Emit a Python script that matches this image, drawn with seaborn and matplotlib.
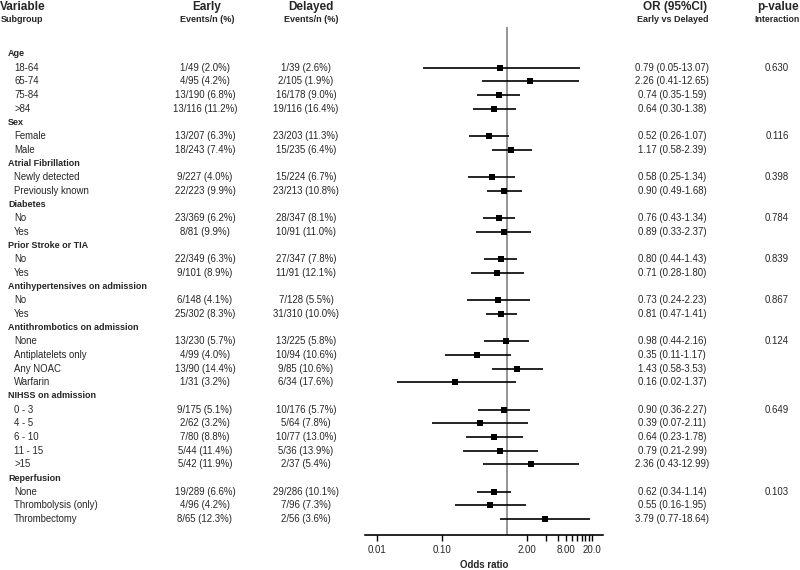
import numpy as np
import pandas as pd
import seaborn as sns
import matplotlib.pyplot as plt
from matplotlib.transforms import blended_transform_factory

# groups / subgroups
group_names = ["Age", "Sex", "Atrial Fibrillation", "Diabetes", "Prior Stroke or TIA",
               "Antihypertensives on admission", "Antithrombotics on admission",
               "NIHSS on admission", "Reperfusion"]
group_sizes = [4, 2, 2, 2, 2, 2, 4, 5, 3]
p_interaction = ["0.630", "0.116", "0.398", "0.784", "0.839", "0.867", "0.124", "0.649", "0.103"]

subgroups = ["18-64", "65-74", "75-84", ">84",
             "Female", "Male",
             "Newly detected", "Previously known",
             "No", "Yes",
             "No", "Yes",
             "No", "Yes",
             "None", "Antiplatelets only", "Any NOAC", "Warfarin",
             "0 - 3", "4 - 5", "6 - 10", "11 - 15", ">15",
             "None", "Thrombolysis (only)", "Thrombectomy"]

early = ["1/49 (2.0%)", "4/95 (4.2%)", "13/190 (6.8%)", "13/116 (11.2%)",
         "13/207 (6.3%)", "18/243 (7.4%)",
         "9/227 (4.0%)", "22/223 (9.9%)",
         "23/369 (6.2%)", "8/81 (9.9%)",
         "22/349 (6.3%)", "9/101 (8.9%)",
         "6/148 (4.1%)", "25/302 (8.3%)",
         "13/230 (5.7%)", "4/99 (4.0%)", "13/90 (14.4%)", "1/31 (3.2%)",
         "9/175 (5.1%)", "2/62 (3.2%)", "7/80 (8.8%)", "5/44 (11.4%)", "5/42 (11.9%)",
         "19/289 (6.6%)", "4/96 (4.2%)", "8/65 (12.3%)"]

delayed = ["1/39 (2.6%)", "2/105 (1.9%)", "16/178 (9.0%)", "19/116 (16.4%)",
           "23/203 (11.3%)", "15/235 (6.4%)",
           "15/224 (6.7%)", "23/213 (10.8%)",
           "28/347 (8.1%)", "10/91 (11.0%)",
           "27/347 (7.8%)", "11/91 (12.1%)",
           "7/128 (5.5%)", "31/310 (10.0%)",
           "13/225 (5.8%)", "10/94 (10.6%)", "9/85 (10.6%)", "6/34 (17.6%)",
           "10/176 (5.7%)", "5/64 (7.8%)", "10/77 (13.0%)", "5/36 (13.9%)", "2/37 (5.4%)",
           "29/286 (10.1%)", "7/96 (7.3%)", "2/56 (3.6%)"]

odds_ratio = [0.79, 2.26, 0.74, 0.64, 0.52, 1.17, 0.58, 0.90, 0.76, 0.89, 0.80, 0.71,
              0.73, 0.81, 0.98, 0.35, 1.43, 0.16, 0.90, 0.39, 0.64, 0.79, 2.36,
              0.62, 0.55, 3.79]
ci_low = [0.05, 0.41, 0.35, 0.30, 0.26, 0.58, 0.25, 0.49, 0.43, 0.33, 0.44, 0.28,
          0.24, 0.47, 0.44, 0.11, 0.58, 0.02, 0.36, 0.07, 0.23, 0.21, 0.43,
          0.34, 0.16, 0.77]
ci_high = [13.07, 12.65, 1.59, 1.38, 1.07, 2.39, 1.34, 1.68, 1.34, 2.37, 1.43, 1.80,
           2.23, 1.41, 2.16, 1.17, 3.53, 1.37, 2.27, 2.11, 1.78, 2.99, 12.99,
           1.14, 1.95, 18.64]

tick_vals = [0.01, 0.1, 2, 4, 6, 8, 10, 12, 14, 16, 18, 20]
tick_labels = ["0.01", "0.10", "2.00", "", "", "8.00", "", "", "", "", "", "20.0"]

# build row table: group header rows followed by their subgroups
rows = []
k = 0
for g, n, p in zip(group_names, group_sizes, p_interaction):
    rows.append(dict(label=g, header=True))
    for j in range(n):
        rows.append(dict(label=subgroups[k], header=False, early=early[k], delayed=delayed[k],
                         OR=odds_ratio[k], lo=ci_low[k], hi=ci_high[k],
                         p=p if j == 0 else ""))
        k += 1
df = pd.DataFrame(rows)
df["row"] = np.arange(len(df))
est = df[~df["header"]]

sns.set_theme(style="white")
plt.rcParams["font.family"] = ["Liberation Sans", "DejaVu Sans"]

W, H = 800, 570
fig = plt.figure(figsize=(8, 5.7), dpi=100)
top_px, bot_px = 26.6, 535
ax = fig.add_axes([365 / W, 1 - bot_px / H, 238 / W, (bot_px - top_px) / H])

ax.hlines(est["row"], est["lo"], est["hi"], color="black", lw=1.2, zorder=2)
sns.scatterplot(data=est, x="OR", y="row", marker="s", s=24, color="black",
                linewidth=0, ax=ax, zorder=3)
ax.axvline(1, color="#777777", lw=1.1, zorder=1)

ax.set_xscale("log")
ax.set_xlim(0.0065, 30)
ax.set_ylim(35.16, -2)
ax.set_xticks(tick_vals)
ax.set_xticklabels(tick_labels)
ax.minorticks_off()
ax.tick_params(axis="x", bottom=True, length=4, width=1, pad=3, labelsize=7, color="black")
ax.set_yticks([])
ax.set_xlabel("Odds ratio", fontsize=7, fontweight="bold", labelpad=4)
ax.set_ylabel("")
for s in ["left", "top", "right"]:
    ax.spines[s].set_visible(False)
ax.spines["bottom"].set_color("black")
ax.spines["bottom"].set_linewidth(1.2)

# text columns
tr = blended_transform_factory(fig.transFigure, ax.transData)
fs = 6.9
for _, r in df.iterrows():
    y = r["row"]
    if r["header"]:
        fig.text(8 / W, y, r["label"], transform=tr, fontsize=6.5, fontweight="bold",
                 va="center", ha="left")
    else:
        fig.text(14 / W, y, r["label"], transform=tr, fontsize=fs, va="center", ha="left")
        fig.text(205 / W, y, r["early"], transform=tr, fontsize=fs, va="center", ha="center")
        fig.text(306 / W, y, r["delayed"], transform=tr, fontsize=fs, va="center", ha="center")
        fig.text(672 / W, y, f"{r['OR']:.2f} ({r['lo']:.2f}-{r['hi']:.2f})", transform=tr,
                 fontsize=fs, va="center", ha="center")
        fig.text(777 / W, y, r["p"], transform=tr, fontsize=fs, va="center", ha="center")

# column headers
def head(x, y, s, size, ha="center"):
    fig.text(x / W, 1 - y / H, s, fontsize=size, fontweight="bold", ha=ha, va="center")

head(0, 7, "Variable", 8.5, ha="left")
head(1, 20, "Subgroup", 6.5, ha="left")
head(207, 7, "Early", 8.5)
head(207, 20, "Events/n (%)", 6.5)
head(311, 7, "Delayed", 8.5)
head(311, 20, "Events/n (%)", 6.5)
head(675, 7, "OR (95%CI)", 8.5)
head(673, 20, "Early vs Delayed", 6.5)
head(778, 7, "p-value", 8.5)
head(777, 20, "Interaction", 6.3)

fig.savefig("out.png", dpi=100)
